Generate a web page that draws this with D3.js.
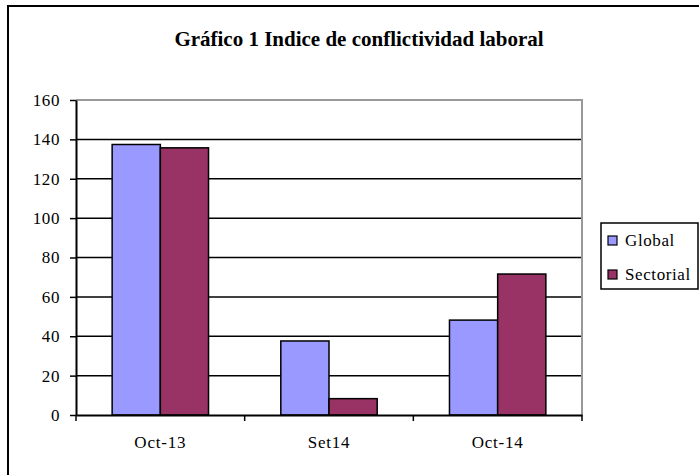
<!DOCTYPE html>
<html>
<head>
<meta charset="utf-8">
<script src="https://cdn.jsdelivr.net/npm/d3@7"></script>
<style>
  body { margin: 0; background: #fff; }
</style>
</head>
<body>
<div class="chart"></div>
<script>
const categories = ['Oct-13', 'Set14', 'Oct-14'];
const series = ['Global', 'Sectorial'];
const globalValues = [137.4, 37.6, 48.2];
const sectorialValues = [135.7, 8.3, 71.6];
const yTicks = [0, 20, 40, 60, 80, 100, 120, 140, 160];
const colors = ['#9999ff', '#993366'];

const fontFamily = '"Liberation Serif", "Times New Roman", "DejaVu Serif", serif';
const fullWidth = 699;
const fullHeight = 475;
const plot = {left: 76, top: 100, right: 582, bottom: 415};

const svg = d3.select('.chart')
    .append('svg')
        .attr('width', fullWidth)
        .attr('height', fullHeight);

// chart area border (runs off the right and bottom edge)
svg.append('rect')
    .attr('x', 8)
    .attr('y', 6)
    .attr('width', 720)
    .attr('height', 500)
    .attr('fill', '#fff')
    .attr('stroke', '#000')
    .attr('stroke-width', 2);

svg.append('text')
    .attr('x', 359)
    .attr('y', 46)
    .attr('text-anchor', 'middle')
    .style('font-family', fontFamily)
    .style('font-size', '21px')
    .style('font-weight', 'bold')
    .text('Gráfico 1 Indice de conflictividad laboral');

const yScale = d3.scaleLinear()
    .domain([0, 160])
    .range([plot.bottom, plot.top]);

const xScale = d3.scaleBand()
    .domain(categories)
    .range([plot.left, plot.right]);

// bar width follows a gap width of 150%
const xInner = d3.scaleBand()
    .domain(series)
    .range([0, xScale.bandwidth()])
    .paddingOuter(0.75)
    .paddingInner(0);

// grid lines
svg.append('g')
    .selectAll('line')
    .data(yTicks.filter(d => d > 0 && d < 160))
    .enter()
    .append('line')
    .attr('x1', plot.left)
    .attr('x2', plot.right)
    .attr('y1', d => yScale(d))
    .attr('y2', d => yScale(d))
    .attr('stroke', '#000')
    .attr('stroke-width', 1.5);

// plot area border
svg.append('path')
    .attr('d', `M${plot.left},${plot.top}H${plot.right}V${plot.bottom}`)
    .attr('fill', 'none')
    .attr('stroke', '#999')
    .attr('stroke-width', 2);

const data = categories.map((c, i) => ({
    category: c,
    values: [globalValues[i], sectorialValues[i]]
}));

svg.append('g')
    .selectAll('g')
    .data(data)
    .enter()
    .append('g')
        .attr('transform', d => `translate(${xScale(d.category)},0)`)
    .selectAll('rect')
    .data(d => d.values.map((v, j) => ({series: series[j], value: v, idx: j})))
    .enter()
    .append('rect')
    .attr('x', d => xInner(d.series))
    .attr('y', d => yScale(d.value))
    .attr('width', xInner.bandwidth())
    .attr('height', d => yScale(0) - yScale(d.value))
    .attr('fill', d => colors[d.idx])
    .attr('stroke', '#000')
    .attr('stroke-width', 1.5);

const yAxis = d3.axisLeft(yScale)
    .tickValues(yTicks)
    .tickSizeInner(6)
    .tickSizeOuter(0)
    .tickPadding(10);

const gy = svg.append('g')
    .attr('transform', `translate(${plot.left},0)`)
    .call(yAxis)
    .attr('font-family', fontFamily)
    .attr('font-size', 17);
gy.selectAll('text').style('letter-spacing', '0.6px');

const xAxis = d3.axisBottom(xScale)
    .tickSize(0)
    .tickPadding(21);

const gx = svg.append('g')
    .attr('transform', `translate(0,${plot.bottom})`)
    .call(xAxis)
    .attr('font-family', fontFamily)
    .attr('font-size', 17);
gx.selectAll('text').style('letter-spacing', '0.8px');

// category boundary ticks
gx.selectAll('.boundary')
    .data(categories.concat(['end']))
    .enter()
    .append('line')
    .attr('x1', (d, i) => plot.left + i * xScale.step())
    .attr('x2', (d, i) => plot.left + i * xScale.step())
    .attr('y1', 0)
    .attr('y2', 6)
    .attr('stroke', '#000')
    .attr('stroke-width', 1.5);

svg.selectAll('.domain').attr('stroke-width', 2);
gy.selectAll('.tick line').attr('stroke-width', 1.5);

// legend
const legend = svg.append('g')
    .attr('transform', 'translate(601,223)');
legend.append('rect')
    .attr('width', 97)
    .attr('height', 66)
    .attr('fill', '#fff')
    .attr('stroke', '#000')
    .attr('stroke-width', 1.5);
const items = legend.selectAll('g')
    .data(series)
    .enter()
    .append('g')
        .attr('transform', (d, i) => `translate(7,${13 + i * 34})`);
items.append('rect')
    .attr('width', 9)
    .attr('height', 9)
    .attr('fill', (d, i) => colors[i])
    .attr('stroke', '#000')
    .attr('stroke-width', 1.2);
items.append('text')
    .attr('x', 17)
    .attr('y', 10)
    .style('font-family', fontFamily)
    .style('font-size', '17px')
    .style('letter-spacing', '0.6px')
    .text(d => d);
</script>
</body>
</html>
